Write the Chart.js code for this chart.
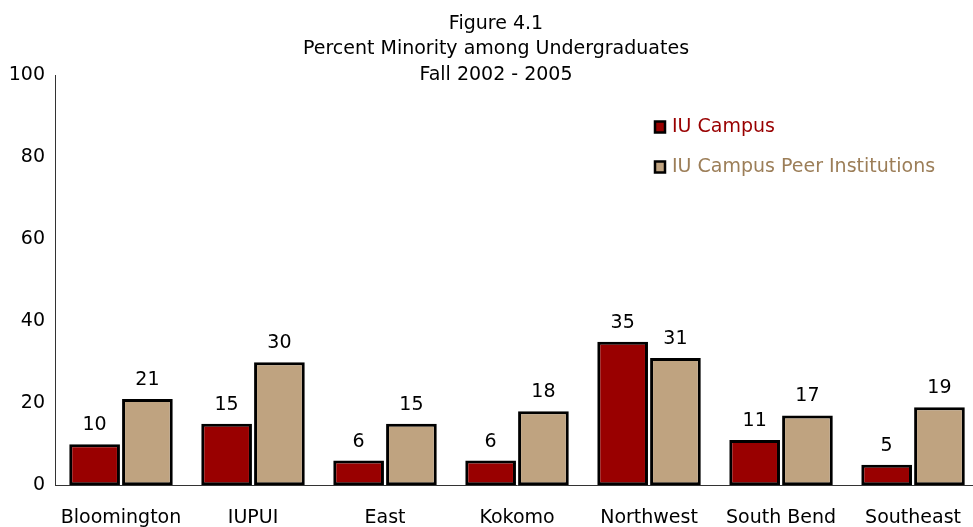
<!DOCTYPE html>
<html><head><meta charset="utf-8">
<script src="https://cdn.jsdelivr.net/npm/chart.js@4/dist/chart.umd.min.js"></script>
<style>html,body{margin:0;padding:0;overflow:hidden;background:#fff;width:973px;height:527px}
#wrap{position:relative;width:973px;height:527px;overflow:hidden}
#c{position:absolute;left:0;top:0}</style>
</head><body>
<div id="wrap"><canvas id="c" width="982" height="562"></canvas></div>
<script>
const categories = ["Bloomington","IUPUI","East","Kokomo","Northwest","South Bend","Southeast"];
const iuCampus = [10,15,6,6,35,11,5];
const peerInstitutions = [21,30,15,18,31,17,19];
const seriesNames = ["IU Campus","IU Campus Peer Institutions"];
const titleLines = ["Figure 4.1","Percent Minority among Undergraduates","Fall 2002 - 2005"];
const yTicks = [0,20,40,60,80,100];

const FONT = "'DejaVu Sans', Verdana, sans-serif";
const legendTextColors = ["#990000","#9C7E58"];

const overlay = {
  id:'overlay',
  afterDatasetsDraw(chart){
    const ctx = chart.ctx;
    ctx.save();
    ctx.font = "19px " + FONT;
    ctx.fillStyle = "#000";
    ctx.textAlign = "center";
    ctx.textBaseline = "alphabetic";
    chart.data.datasets.forEach((ds,i)=>{
      chart.getDatasetMeta(i).data.forEach((bar,j)=>{
        ctx.fillText(String(ds.data[j]), bar.x, bar.y - 14);
      });
    });
    ctx.textBaseline = "middle";
    titleLines.forEach((t,k)=>{ ctx.fillText(t, 496, 24 + k*25.5); });
    ctx.textAlign = "left";
    chart.data.datasets.forEach((ds,i)=>{
      const y = 127 + i*40;
      ctx.fillStyle = ds.backgroundColor;
      ctx.fillRect(655, y-5.5, 10, 11);
      ctx.lineWidth = 2.5; ctx.strokeStyle = "#000";
      ctx.strokeRect(655, y-5.5, 10, 11);
      ctx.fillStyle = legendTextColors[i];
      ctx.fillText(ds.label, 672, y);
    });
    ctx.restore();
  }
};

new Chart(document.getElementById('c'), {
  type:'bar',
  data:{
    labels: categories,
    datasets:[
      {label:seriesNames[0], data:iuCampus, backgroundColor:"#990000", borderColor:"#000", borderWidth:3, borderSkipped:false, barPercentage:0.96, categoryPercentage:0.8},
      {label:seriesNames[1], data:peerInstitutions, backgroundColor:"#BFA380", borderColor:"#000", borderWidth:3, borderSkipped:false, barPercentage:0.96, categoryPercentage:0.8}
    ]
  },
  options:{
    responsive:false, animation:false,
    layout:{padding:{top:75,left:0,right:0,bottom:12}},
    plugins:{legend:{display:false}, title:{display:false}, tooltip:{enabled:false}},
    scales:{
      x:{
        grid:{display:false, drawTicks:false},
        border:{display:true, color:"#333", width:1},
        ticks:{color:"#000", font:{family:FONT, size:19}, padding:21, maxRotation:0, autoSkip:false}
      },
      y:{
        min:0, max:100,
        afterBuildTicks(axis){ axis.ticks = yTicks.map(v=>({value:v})); },
        afterFit(axis){ axis.width = 55; },
        grid:{display:false, drawTicks:false},
        border:{display:true, color:"#333", width:1},
        ticks:{color:"#000", font:{family:FONT, size:19}, padding:10}
      }
    }
  },
  plugins:[overlay]
});
</script>
</body></html>
